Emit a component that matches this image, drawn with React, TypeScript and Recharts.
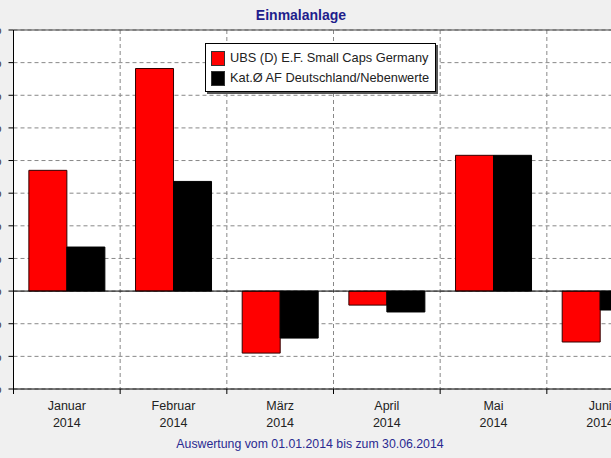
import React from "react";
import { Bar, BarChart, CartesianGrid, XAxis, YAxis, ReferenceLine } from "recharts";

const months = ["Januar", "Februar", "März", "April", "Mai", "Juni"];
const year = "2014";
const ubsValues = [3.7, 6.82, -1.9, -0.43, 4.16, -1.56];
const katValues = [1.35, 3.36, -1.44, -0.64, 4.16, -0.58];
const yTicks = [-3, -2, -1, 0, 1, 2, 3, 4, 5, 6, 7, 8];

const seriesNames = ["UBS (D) E.F. Small Caps Germany", "Kat.Ø AF Deutschland/Nebenwerte"];
const seriesColors = ["#ff0000", "#000000"];

const data = months.map((m, i) => ({ name: m, ubs: ubsValues[i], kat: katValues[i] }));

const FONT = "'Liberation Sans', Arial, sans-serif";
const SHIFT = 40;
const CHART_W = 714;
const PLOT_W = 640;
const Y_W = 53.5;

function MonthTick(props: any) {
  const { x, y, payload, index } = props;
  const half = PLOT_W / months.length / 2;
  return (
    <g>
      {index === 0 && <line x1={x - half} x2={x - half} y1={y} y2={y + 5} stroke="#000" />}
      <line x1={x + half} x2={x + half} y1={y} y2={y + 5} stroke="#000" />
      <text x={x} y={y + 21} textAnchor="middle" fontSize={12.5} fill="#222" fontFamily={FONT}>
        {payload.value}
      </text>
      <text x={x} y={y + 38} textAnchor="middle" fontSize={12.5} fill="#222" fontFamily={FONT}>
        {year}
      </text>
    </g>
  );
}

function LegendBox() {
  return (
    <div
      style={{
        position: "absolute",
        left: 205,
        top: 43,
        background: "#fff",
        border: "1px solid #000",
        boxShadow: "2px 2px 0 #555",
        padding: "4px 6px 3px 5px",
        fontFamily: FONT,
        fontSize: 12.8,
        color: "#222",
        lineHeight: "20px",
        whiteSpace: "nowrap",
      }}
    >
      {seriesNames.map((n, i) => (
        <div key={n} style={{ display: "flex", alignItems: "center" }}>
          <span
            style={{
              display: "inline-block",
              width: 14,
              height: 15,
              background: seriesColors[i],
              border: "1px solid #333",
              marginRight: 5,
              boxSizing: "border-box",
            }}
          />
          {n}
        </div>
      ))}
    </div>
  );
}

export default function App() {
  return (
    <div
      style={{
        position: "absolute",
        left: 0,
        top: 0,
        width: 611,
        height: 458,
        overflow: "hidden",
        background: "#f0f0f0",
        fontFamily: FONT,
      }}
    >
      <div
        style={{
          position: "absolute",
          top: 7,
          left: 0,
          width: 602,
          textAlign: "center",
          fontSize: 14,
          fontWeight: "bold",
          color: "#1e1e8c",
        }}
      >
        Einmalanlage
      </div>
      <div style={{ position: "absolute", left: -SHIFT, top: 0 }}>
        <BarChart
          width={CHART_W}
          height={458}
          data={data}
          margin={{ top: 30, right: CHART_W - Y_W - PLOT_W, bottom: 29, left: 0 }}
          barCategoryGap="14.4%"
          barGap={0}
        >
          <CartesianGrid
            fill="#fff"
            stroke="#888"
            strokeDasharray="4 3"
            verticalCoordinatesGenerator={({ offset }: any) =>
              months.map((_, i) => offset.left + ((i + 1) * offset.width) / months.length)
            }
          />
          <XAxis
            dataKey="name"
            tickSize={0}
            tickMargin={0}
            tickLine={false}
            axisLine={{ stroke: "#000" }}
            height={40}
            interval={0}
            tick={<MonthTick />}
          />
          <YAxis
            type="number"
            domain={[-3, 8]}
            ticks={yTicks}
            width={Y_W}
            tickSize={5}
            tickMargin={7}
            axisLine={{ stroke: "#000" }}
            tickLine={{ stroke: "#000" }}
            tick={{ fill: "#222", fontSize: 12, fontFamily: FONT }}
            tickFormatter={(v: number) => `${v},00 %`}
          />
          <Bar dataKey="ubs" name={seriesNames[0]} fill={seriesColors[0]} stroke="#300" strokeWidth={1} isAnimationActive={false} />
          <Bar dataKey="kat" name={seriesNames[1]} fill={seriesColors[1]} stroke="#000" strokeWidth={1} isAnimationActive={false} />
          <ReferenceLine y={8} stroke="#444" />
          <ReferenceLine y={0} stroke="#000" />
        </BarChart>
      </div>
      <LegendBox />
      <div
        style={{
          position: "absolute",
          top: 437,
          left: 0,
          width: 620,
          textAlign: "center",
          fontSize: 12.3,
          color: "#2a2a90",
        }}
      >
        Auswertung vom 01.01.2014 bis zum 30.06.2014
      </div>
    </div>
  );
}
